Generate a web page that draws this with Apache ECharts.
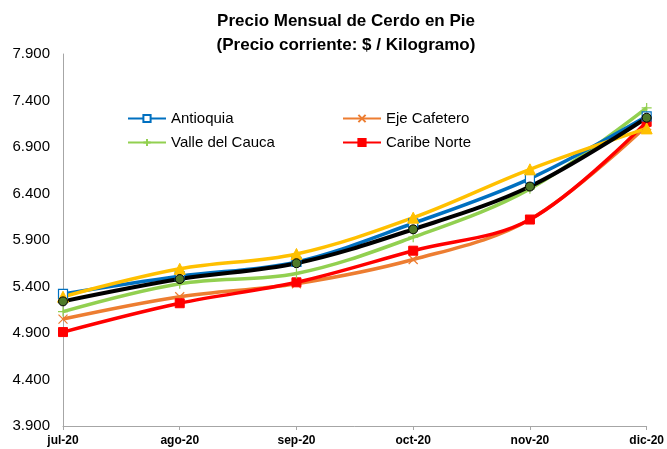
<!DOCTYPE html>
<html>
<head>
<meta charset="utf-8">
<script src="https://cdn.jsdelivr.net/npm/echarts@6/dist/echarts.min.js"></script>
<style>
  html, body { margin: 0; padding: 0; background: #fff; }
  #chart { width: 667px; height: 449px; }
</style>
</head>
<body>
<div id="chart"></div>
<script>
const months = ["jul-20", "ago-20", "sep-20", "oct-20", "nov-20", "dic-20"];
const yTicks = [3900, 4400, 4900, 5400, 5900, 6400, 6900, 7400, 7900];

const antioquia = [5320, 5510, 5665, 6080, 6560, 7230];
const ejeCafetero = [5050, 5290, 5430, 5690, 6120, 7130];
const valleDelCauca = [5130, 5430, 5540, 5930, 6450, 7320];
const caribeNorte = [4910, 5220, 5445, 5785, 6120, 7170];
const bogota = [5290, 5590, 5750, 6140, 6660, 7100];
const nacional = [5240, 5480, 5650, 6015, 6475, 7215];

const fontNarrow = "'Liberation Sans Narrow', 'Liberation Sans', Arial, sans-serif";
const fontMain = "'Liberation Sans', Arial, sans-serif";

function lineSeries(name, data, color, symbol, size, extra) {
  return Object.assign({
    name,
    type: "line",
    data,
    smooth: 0.35,
    symbol,
    symbolSize: size,
    showAllSymbol: true,
    lineStyle: { color, width: 3.5 },
    itemStyle: { color, borderColor: color, borderWidth: 1 },
    emphasis: { disabled: true },
  }, extra || {});
}

const chart = echarts.init(document.getElementById("chart"), null, { renderer: "canvas" });

chart.setOption({
  animation: false,
  backgroundColor: "#fff",
  title: {
    text: "Precio Mensual de Cerdo en Pie\n(Precio corriente: $ / Kilogramo)",
    left: 341,
    textAlign: "center",
    top: 4,
    textStyle: {
      fontFamily: fontNarrow,
      fontWeight: "bold",
      fontSize: 17,
      lineHeight: 24,
      color: "#000",
    },
  },
  legend: [
    {
      data: ["Antioquia", "Valle del Cauca"],
      orient: "vertical",
      left: 122,
      top: 106,
      itemWidth: 38,
      itemHeight: 9,
      itemGap: 9,
      textStyle: { fontFamily: fontMain, fontSize: 15, color: "#000" },
    },
    {
      data: ["Eje Cafetero", "Caribe Norte"],
      orient: "vertical",
      left: 337,
      top: 106,
      itemWidth: 38,
      itemHeight: 9,
      itemGap: 9,
      textStyle: { fontFamily: fontMain, fontSize: 15, color: "#000" },
    },
  ],
  grid: { left: 63, right: 19, top: 54, bottom: 23, containLabel: false },
  xAxis: {
    type: "category",
    data: months,
    boundaryGap: false,
    axisLine: { lineStyle: { color: "#a6a6a6", width: 1 } },
    axisTick: { show: true, alignWithLabel: true, length: 4, lineStyle: { color: "#a6a6a6" } },
    axisLabel: {
      fontFamily: fontNarrow,
      fontWeight: "bold",
      fontSize: 12,
      color: "#000",
      margin: 9,
    },
    splitLine: { show: false },
  },
  yAxis: {
    type: "value",
    min: yTicks[0],
    max: yTicks[yTicks.length - 1],
    interval: 500,
    axisLine: { show: true, lineStyle: { color: "#a6a6a6", width: 1 } },
    axisTick: { show: false },
    splitLine: { show: false },
    axisLabel: {
      fontFamily: fontMain,
      fontSize: 15,
      color: "#000",
      margin: 13,
      formatter: (v) => v.toLocaleString("de-DE").replace(",", "."),
    },
  },
  series: [
    lineSeries("Eje Cafetero", ejeCafetero, "#ed7d31", "path://M0,0L10,10M10,0L0,10", 9, {
      itemStyle: { color: "none", borderColor: "#ed7d31", borderWidth: 1.2 },
    }),
    lineSeries("Caribe Norte", caribeNorte, "#ff0000", "rect", 9),
    lineSeries("Valle del Cauca", valleDelCauca, "#92d050", "path://M5,0L5,10M0,5L10,5", 10, {
      itemStyle: { color: "none", borderColor: "#92d050", borderWidth: 1.2 },
    }),
    lineSeries("Antioquia", antioquia, "#0070c0", "rect", 9, {
      itemStyle: { color: "#fff", borderColor: "#0070c0", borderWidth: 1.2 },
    }),
    lineSeries("Bogotá", bogota, "#ffc000", "triangle", 11),
    lineSeries("Nacional", nacional, "#000000", "circle", 9, {
      lineStyle: { color: "#000", width: 4 },
      itemStyle: { color: "#4f7a28", borderColor: "#000", borderWidth: 1 },
    }),
  ],
});
</script>
</body>
</html>
